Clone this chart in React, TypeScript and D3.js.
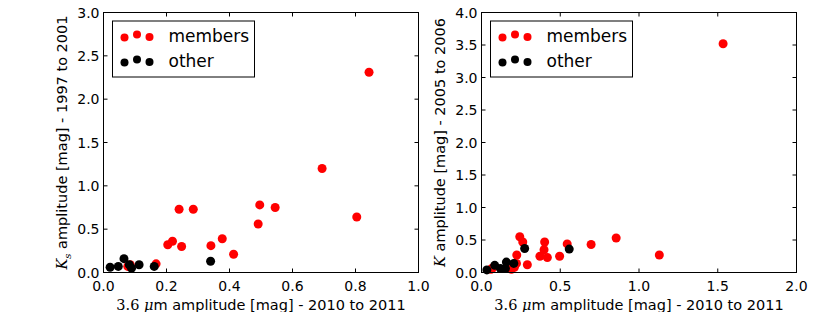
import React, { useEffect, useRef } from 'react';
import * as d3 from 'd3';

// left panel: 3.6um amplitude vs Ks amplitude (1997-2001)
const leftMembers: [number, number][] = [
  [0.843, 2.31], [0.694, 1.2], [0.804, 0.64], [0.496, 0.78], [0.545, 0.75],
  [0.491, 0.56], [0.24, 0.73], [0.285, 0.73], [0.204, 0.32], [0.219, 0.36],
  [0.248, 0.3], [0.341, 0.31], [0.377, 0.39], [0.413, 0.21], [0.167, 0.1],
  [0.077, 0.07], [0.085, 0.09],
];
const leftOther: [number, number][] = [
  [0.021, 0.06], [0.047, 0.07], [0.065, 0.16], [0.082, 0.09], [0.089, 0.05],
  [0.113, 0.09], [0.161, 0.07], [0.34, 0.13],
];

// right panel: 3.6um amplitude vs K amplitude (2005-2006)
const rightMembers: [number, number][] = [
  [1.534, 3.52], [1.129, 0.27], [0.855, 0.53], [0.696, 0.43], [0.544, 0.44],
  [0.496, 0.25], [0.401, 0.47], [0.397, 0.35], [0.418, 0.23], [0.371, 0.25],
  [0.243, 0.55], [0.262, 0.47], [0.291, 0.12], [0.224, 0.27], [0.222, 0.14],
  [0.209, 0.08], [0.07, 0.07], [0.19, 0.05], [0.06, 0.05],
];
const rightOther: [number, number][] = [
  [0.034, 0.04], [0.084, 0.11], [0.12, 0.06], [0.152, 0.06], [0.158, 0.16],
  [0.205, 0.14], [0.274, 0.37], [0.557, 0.36],
];

const leftXTicks = [0, 0.2, 0.4, 0.6, 0.8, 1.0];
const leftYTicks = [0, 0.5, 1.0, 1.5, 2.0, 2.5, 3.0];
const rightXTicks = [0, 0.5, 1.0, 1.5, 2.0];
const rightYTicks = [0, 0.5, 1.0, 1.5, 2.0, 2.5, 3.0, 3.5, 4.0];

const legendLabels = ['members', 'other'];
const seriesColors = ['#ff0000', '#000000'];

const FONT = 'DejaVu Sans, sans-serif';
const SERIF = 'DejaVu Serif, serif';

function drawPanel(svg: any, opts: any) {
  const { left, right, top, bottom, xMax, yMax, xTicks, yTicks, members, other, yLabel, yLabelX } = opts;
  const x = d3.scaleLinear().domain([0, xMax]).range([left, right]);
  const y = d3.scaleLinear().domain([0, yMax]).range([bottom, top]);
  const g = svg.append('g');

  // points, members first then other on top
  [members, other].forEach((data: [number, number][], i: number) => {
    g.append('g').selectAll('circle').data(data).enter().append('circle')
      .attr('cx', (d: [number, number]) => x(d[0]))
      .attr('cy', (d: [number, number]) => y(d[1]))
      .attr('r', 4.5)
      .style('fill', seriesColors[i]);
  });

  // frame
  g.append('rect')
    .attr('x', left).attr('y', top)
    .attr('width', right - left).attr('height', bottom - top)
    .style('fill', 'none').style('stroke', '#000').style('stroke-width', 1);

  // inward ticks on all sides
  const tl = 4;
  xTicks.forEach((t: number) => {
    g.append('line').attr('x1', x(t)).attr('x2', x(t)).attr('y1', bottom).attr('y2', bottom - tl).style('stroke', '#000');
    g.append('line').attr('x1', x(t)).attr('x2', x(t)).attr('y1', top).attr('y2', top + tl).style('stroke', '#000');
    g.append('text').attr('x', x(t)).attr('y', bottom + 18)
      .attr('text-anchor', 'middle').style('font-family', FONT).style('font-size', '14px')
      .text(d3.format('.1f')(t));
  });
  yTicks.forEach((t: number) => {
    g.append('line').attr('x1', left).attr('x2', left + tl).attr('y1', y(t)).attr('y2', y(t)).style('stroke', '#000');
    g.append('line').attr('x1', right).attr('x2', right - tl).attr('y1', y(t)).attr('y2', y(t)).style('stroke', '#000');
    g.append('text').attr('x', left - 4).attr('y', y(t) + 5)
      .attr('text-anchor', 'end').style('font-family', FONT).style('font-size', '14px')
      .text(d3.format('.1f')(t));
  });

  // x label
  const xl = g.append('text').attr('x', (left + right) / 2).attr('y', 310)
    .attr('text-anchor', 'middle').style('font-family', FONT).style('font-size', '14.5px');
  xl.append('tspan').style('font-family', SERIF).text('3.6 ');
  xl.append('tspan').style('font-family', SERIF).style('font-style', 'italic').text('μ');
  xl.append('tspan').text('m amplitude [mag] - 2010 to 2011');

  // y label
  const yl = g.append('text')
    .attr('transform', `translate(${yLabelX},${(top + bottom) / 2}) rotate(-90)`)
    .attr('text-anchor', 'middle').style('font-family', FONT).style('font-size', '14.5px');
  yl.append('tspan').style('font-family', SERIF).style('font-style', 'italic').text(yLabel.k);
  if (yLabel.sub) {
    yl.append('tspan').style('font-family', SERIF).style('font-style', 'italic')
      .style('font-size', '10px').attr('dy', 4).text(yLabel.sub);
    yl.append('tspan').attr('dy', -4).text(' ' + yLabel.rest);
  } else {
    yl.append('tspan').text(' ' + yLabel.rest);
  }

  // legend
  const lx = left + 9;
  const ly = top + 8.5;
  g.append('rect').attr('x', lx).attr('y', ly).attr('width', 142).attr('height', 56)
    .style('fill', '#fff').style('stroke', '#000').style('stroke-width', 1);
  const offs = [1.5, -1.5, 1];
  legendLabels.forEach((lab, i) => {
    const cy = ly + 15 + i * 25;
    offs.forEach((o, j) => {
      g.append('circle').attr('cx', lx + 12 + j * 12.5).attr('cy', cy + o).attr('r', 4)
        .style('fill', seriesColors[i]);
    });
    g.append('text').attr('x', lx + 56).attr('y', cy + 6)
      .style('font-family', FONT).style('font-size', '17px').text(lab);
  });
}

function App() {
  const ref = useRef<SVGSVGElement>(null);

  useEffect(() => {
    const svg = d3.select(ref.current);
    svg.selectAll('*').remove();
    drawPanel(svg, {
      left: 103.5, right: 418.5, top: 12.5, bottom: 272.5,
      xMax: 1.0, yMax: 3.0, xTicks: leftXTicks, yTicks: leftYTicks,
      members: leftMembers, other: leftOther,
      yLabel: { k: 'K', sub: 's', rest: 'amplitude [mag] - 1997 to 2001' }, yLabelX: 67,
    });
    drawPanel(svg, {
      left: 481.5, right: 796.5, top: 12.5, bottom: 272.5,
      xMax: 2.0, yMax: 4.0, xTicks: rightXTicks, yTicks: rightYTicks,
      members: rightMembers, other: rightOther,
      yLabel: { k: 'K', sub: '', rest: 'amplitude [mag] - 2005 to 2006' }, yLabelX: 445,
    });
  }, []);

  return (
    <svg ref={ref} width={830} height={312}
      style={{ position: 'absolute', left: 0, top: 0, background: '#fff' }} />
  );
}

export default App;
